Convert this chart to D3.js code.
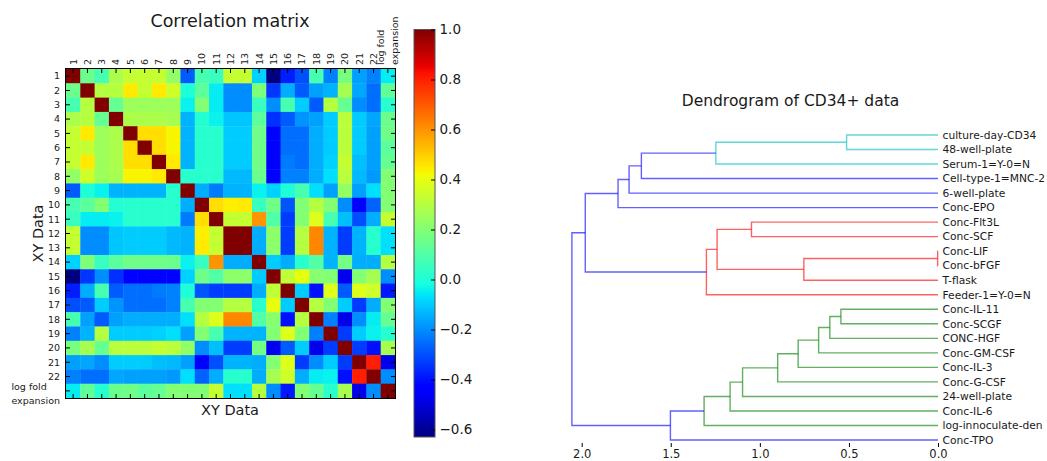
<!doctype html>
<html lang="en">
<head>
<meta charset="utf-8">
<title>Correlation matrix and dendrogram of CD34+ data</title>
<script src="https://d3js.org/d3.v7.min.js"></script>
<style>
  body { margin: 0; background: #fff; }
  svg { display: block; font-family: "DejaVu Sans", sans-serif; }
  .lbl { fill: #1a1a1a; }
  .axis_in text { fill: #1a1a1a; font-family: "DejaVu Sans", sans-serif; }
  .axis_in line { stroke: #000; }
</style>
</head>
<body>
<svg id="main" width="1047" height="461"></svg>
<script>
// ---------- data ----------
var varLabels = ['1', '2', '3', '4', '5', '6', '7', '8', '9', '10', '11', '12', '13', '14', '15',
                 '16', '17', '18', '19', '20', '21', '22', 'log fold\nexpansion'];

// upper triangle of the correlation matrix: row i holds columns i..22
var corrUpper = [
  [1.00, 0.15, 0.08, 0.28, 0.33, 0.33, 0.33, 0.23, -0.28, 0.08, 0.05, 0.33, 0.33, -0.09, -0.63, -0.38, -0.30, 0.08, -0.22, 0.18, -0.17, -0.22, -0.05],
  [1.00, 0.30, 0.30, 0.45, 0.33, 0.45, 0.35, 0.00, 0.12, -0.05, -0.20, -0.20, 0.19, -0.34, -0.15, -0.28, -0.17, -0.14, 0.27, -0.16, -0.25, 0.13],
  [1.00, 0.14, 0.25, 0.25, 0.25, 0.25, -0.04, 0.20, -0.05, -0.20, -0.20, 0.05, -0.20, 0.08, -0.10, -0.28, 0.30, 0.14, -0.20, -0.25, 0.02],
  [1.00, 0.28, 0.28, 0.28, 0.27, -0.14, 0.01, -0.04, -0.11, -0.11, 0.12, -0.35, -0.28, -0.19, -0.17, -0.10, 0.31, -0.10, -0.16, 0.15],
  [1.00, 0.47, 0.47, 0.43, -0.14, 0.02, 0.02, -0.10, -0.10, 0.16, -0.45, -0.25, -0.25, -0.15, -0.10, 0.31, -0.10, -0.17, 0.16],
  [1.00, 0.47, 0.43, -0.14, 0.02, 0.02, -0.10, -0.10, 0.16, -0.45, -0.25, -0.25, -0.15, -0.10, 0.31, -0.10, -0.17, 0.12],
  [1.00, 0.45, -0.14, 0.02, 0.02, -0.10, -0.10, 0.16, -0.45, -0.23, -0.25, -0.15, -0.09, 0.33, -0.12, -0.17, 0.14],
  [1.00, 0.02, 0.02, 0.02, -0.13, -0.13, 0.15, -0.45, -0.22, -0.22, -0.15, -0.07, 0.31, -0.13, -0.18, 0.20],
  [1.00, -0.15, -0.23, -0.14, -0.14, -0.04, -0.09, 0.00, 0.08, -0.07, -0.17, 0.23, -0.17, -0.07, 0.20],
  [1.00, 0.47, 0.44, 0.45, 0.05, 0.16, -0.29, 0.20, 0.30, 0.20, -0.20, -0.43, -0.27, 0.20],
  [1.00, 0.33, 0.33, 0.60, 0.10, -0.33, 0.20, 0.38, 0.08, -0.12, -0.30, -0.15, 0.33],
  [1.00, 1.00, -0.15, 0.22, -0.33, 0.30, 0.62, -0.14, -0.33, -0.14, 0.02, -0.07],
  [1.00, -0.15, 0.22, -0.33, 0.30, 0.62, -0.14, -0.33, -0.14, 0.02, -0.07],
  [1.00, -0.10, -0.15, 0.02, 0.10, -0.14, 0.17, -0.15, -0.15, 0.30],
  [1.00, 0.32, 0.40, 0.21, 0.20, -0.47, 0.20, 0.27, -0.20],
  [1.00, -0.10, -0.40, 0.38, -0.28, 0.38, 0.35, -0.39],
  [1.00, 0.30, 0.20, -0.10, -0.33, -0.15, 0.20],
  [1.00, -0.22, -0.48, -0.20, -0.05, 0.14],
  [1.00, -0.33, -0.10, -0.04, 0.02],
  [1.00, -0.33, -0.40, 0.27],
  [1.00, 0.80, -0.48],
  [1.00, -0.20],
  [1.00]
];

var colorTicks = [-0.6, -0.4, -0.2, 0.0, 0.2, 0.4, 0.6, 0.8, 1.0];

// dendrogram leaves, top to bottom (two names run off the right edge in the source)
var leafLabels = ['culture-day-CD34', '48-well-plate', 'Serum-1=Y-0=N', 'Cell-type-1=MNC-2',
  '6-well-plate', 'Conc-EPO', 'Conc-Flt3L', 'Conc-SCF', 'Conc-LIF', 'Conc-bFGF', 'T-flask',
  'Feeder-1=Y-0=N', 'Conc-IL-11', 'Conc-SCGF', 'CONC-HGF', 'Conc-GM-CSF', 'Conc-IL-3',
  'Conc-G-CSF', '24-well-plate', 'Conc-IL-6', 'log-innoculate-den', 'Conc-TPO'];

// linkage: [child a, child b, distance]; ids < 22 are leaves, link k gets id 22 + k
var linkage = [
  [0, 1, 0.513], [22, 2, 1.247], [23, 3, 1.665], [24, 4, 1.734], [25, 5, 1.796],
  [6, 7, 1.047], [8, 9, 0.002], [28, 10, 0.753], [27, 29, 1.240], [30, 11, 1.300],
  [26, 31, 1.980],
  [12, 13, 0.545], [33, 14, 0.607], [34, 15, 0.670], [35, 16, 0.785], [36, 17, 0.900],
  [37, 18, 1.097], [38, 19, 1.167], [39, 20, 1.313], [40, 21, 1.502],
  [32, 41, 2.055]
];
var linkColors = ['c', 'c', 'b', 'b', 'b', 'r', 'r', 'r', 'r', 'r', 'b',
                  'g', 'g', 'g', 'g', 'g', 'g', 'g', 'g', 'b', 'b'];
var distTicks = [2.0, 1.5, 1.0, 0.5, 0.0];

// ---------- setup ----------
var svg = d3.select('#main');
var n = varLabels.length;

var corr = d3.range(n).map(i => d3.range(n).map(j => i <= j ? corrUpper[i][j - i] : corrUpper[j][i - j]));
var cells = [];
corr.forEach((row, i) => row.forEach((v, j) => cells.push({i: i, j: j, v: v})));

// matplotlib "jet" colormap, piecewise linear in rgb
var jetStops = [0, 0.11, 0.125, 0.34, 0.35, 0.375, 0.64, 0.65, 0.66, 0.89, 0.91, 1];
var jetColors = ['#000080', '#0000ff', '#0000ff', '#00dbff', '#00e6f7', '#15ffe2',
                 '#eeff08', '#f7f600', '#ffec00', '#ff1300', '#e80000', '#800000'];
var jet = d3.scaleLinear().domain(jetStops).range(jetColors).interpolate(d3.interpolateRgb).clamp(true);
var vExtent = d3.extent(cells, d => d.v);
var tScale = d3.scaleLinear().domain(vExtent).range([0, 1]);
var colorOf = v => jet(tScale(v));

// ---------- heat map ----------
var hx = d3.scaleBand().domain(d3.range(n)).range([66, 395]);
var hy = d3.scaleBand().domain(d3.range(n)).range([69, 398]);
var bw = hx.bandwidth();

svg.append('g').selectAll('rect').data(cells).join('rect')
  .attr('x', d => hx(d.j))
  .attr('y', d => hy(d.i))
  .attr('width', bw + 0.4)
  .attr('height', bw + 0.4)
  .attr('fill', d => colorOf(d.v));

svg.append('rect').attr('x', 65.5).attr('y', 68.5).attr('width', 330).attr('height', 330)
  .attr('fill', 'none').attr('stroke', '#000').attr('stroke-width', 1);

function inTicks(axis, tx, ty) {
  var g = svg.append('g').attr('class', 'axis_in')
    .attr('transform', 'translate(' + tx + ',' + ty + ')')
    .call(axis.tickSize(-4).tickSizeOuter(0).tickFormat(''));
  g.select('.domain').remove();
  return g;
}
inTicks(d3.axisTop(hx), 0, 69);
inTicks(d3.axisBottom(hx), 0, 398);
inTicks(d3.axisLeft(hy), 66, 0);
inTicks(d3.axisRight(hy), 395, 0);

// column labels along the top, rotated
var colLab = svg.append('g').selectAll('text').data(varLabels).join('text')
  .attr('class', 'lbl')
  .attr('font-size', 9.5)
  .attr('transform', (d, j) => {
    var lines = d.split('\n').length;
    var x = hx(j) + bw / 2 + 3.4 - (lines - 1) * 14 / 2;
    return 'translate(' + x + ',65) rotate(-90)';
  });
colLab.selectAll('tspan').data(d => d.split('\n')).join('tspan')
  .attr('x', 0).attr('y', (d, k) => k * 14).text(d => d);

// row labels on the left
var rowLab = svg.append('g').selectAll('text').data(varLabels).join('text')
  .attr('class', 'lbl')
  .attr('font-size', 9.5)
  .attr('y', (d, i) => hy(i) + bw / 2);
rowLab.each(function(d) {
  var lines = d.split('\n');
  var t = d3.select(this);
  if (lines.length === 1) {
    t.attr('x', 60).attr('dy', '0.35em').attr('text-anchor', 'end').text(d);
  } else {
    var sp = t.selectAll('tspan').data(lines).join('tspan')
      .attr('dy', (s, k) => k === 0 ? -1 : 14.5).text(s => s);
    var w = d3.max(sp.nodes(), nd => nd.getComputedTextLength());
    sp.attr('x', 60 - w);
  }
});

svg.append('text').attr('class', 'lbl').attr('x', 230).attr('y', 27)
  .attr('text-anchor', 'middle').attr('font-size', 17.5).text('Correlation matrix');
svg.append('text').attr('class', 'lbl').attr('x', 230).attr('y', 414.5)
  .attr('text-anchor', 'middle').attr('font-size', 14.5).text('XY Data');
svg.append('text').attr('class', 'lbl')
  .attr('transform', 'translate(43,233.5) rotate(-90)')
  .attr('text-anchor', 'middle').attr('font-size', 14.5).text('XY Data');

// ---------- colour bar ----------
var cbY = d3.scaleLinear().domain(vExtent).range([437, 29.5]);
var grad = svg.append('defs').append('linearGradient').attr('id', 'jetgrad')
  .attr('x1', 0).attr('y1', 1).attr('x2', 0).attr('y2', 0);
grad.selectAll('stop').data(jetStops).join('stop')
  .attr('offset', d => d)
  .attr('stop-color', (d, k) => jetColors[k]);

svg.append('rect').attr('x', 414).attr('y', cbY(vExtent[1])).attr('width', 21)
  .attr('height', cbY(vExtent[0]) - cbY(vExtent[1]))
  .attr('fill', 'url(#jetgrad)').attr('stroke', '#555').attr('stroke-width', 1);

var cbAxis = svg.append('g').attr('class', 'axis_in').attr('transform', 'translate(435,0)')
  .call(d3.axisRight(cbY).tickValues(colorTicks).tickFormat(d3.format('.1f'))
    .tickSize(-4).tickSizeOuter(0).tickPadding(4.5));
cbAxis.select('.domain').remove();
cbAxis.selectAll('text').attr('font-size', 13.5);

// ---------- dendrogram ----------
var dx = d3.scaleLinear().domain([2.0, 0]).range([581.7, 938]);
var dy = d3.scaleLinear().domain([0, leafLabels.length - 1]).range([135, 440]);
var colorMap = {b: '#0000ff', c: '#00bfbf', r: '#ff0000', g: '#008000'};

var nodes = leafLabels.map((d, i) => ({pos: i, dist: 0}));
linkage.forEach(l => {
  nodes.push({pos: (nodes[l[0]].pos + nodes[l[1]].pos) / 2, dist: l[2]});
});

svg.append('g').selectAll('path').data(linkage).join('path')
  .attr('fill', 'none')
  .attr('stroke', (d, k) => colorMap[linkColors[k]])
  .attr('stroke-opacity', 0.62)
  .attr('stroke-width', 1.4)
  .attr('d', d => {
    var a = nodes[d[0]], b = nodes[d[1]];
    return 'M' + dx(a.dist) + ',' + dy(a.pos) + 'H' + dx(d[2]) +
           'V' + dy(b.pos) + 'H' + dx(b.dist);
  });

svg.append('g').selectAll('text').data(leafLabels).join('text')
  .attr('class', 'lbl')
  .attr('font-size', 10.7)
  .attr('x', 942.5)
  .attr('y', (d, i) => dy(i))
  .attr('dy', '0.35em')
  .text(d => d);

var dAxis = svg.append('g').attr('class', 'axis_in').attr('transform', 'translate(0,447)')
  .call(d3.axisBottom(dx).tickValues(distTicks).tickFormat(d3.format('.1f'))
    .tickSize(-4).tickSizeOuter(0).tickPadding(3));
dAxis.select('.domain').remove();
dAxis.selectAll('text').attr('font-size', 11.5);

svg.append('text').attr('class', 'lbl').attr('x', 790.5).attr('y', 105.5)
  .attr('text-anchor', 'middle').attr('font-size', 15.5).text('Dendrogram of CD34+ data');
</script>
</body>
</html>
